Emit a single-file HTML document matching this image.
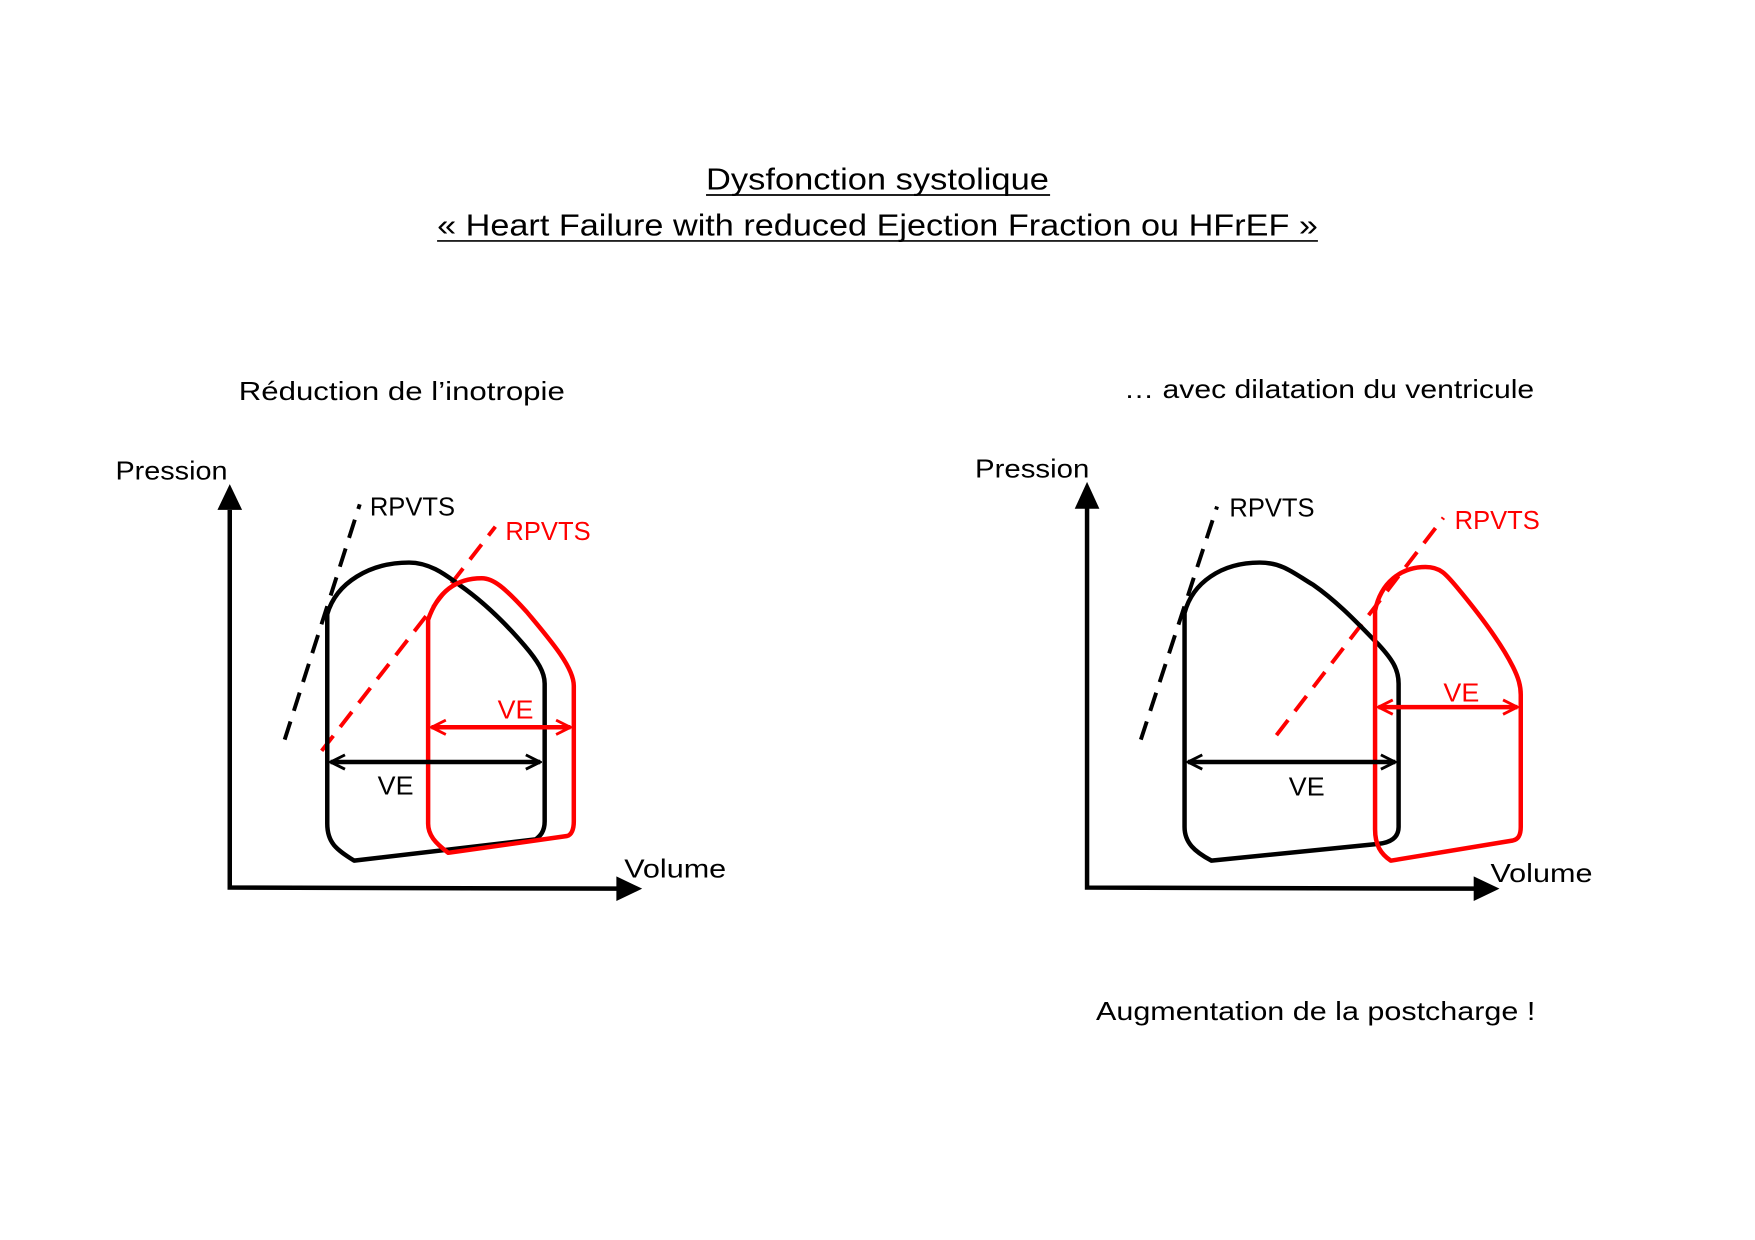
<!DOCTYPE html>
<html><head><meta charset="utf-8"><style>html,body{margin:0;padding:0;background:#fff}svg{display:block}text{font-family:"Liberation Sans",sans-serif}</style></head><body>
<svg width="1755" height="1240" viewBox="0 0 1566 1106.5" xmlns="http://www.w3.org/2000/svg">
<defs>
<marker id="ak" viewBox="0 0 10 10" refX="9" refY="5" markerWidth="4" markerHeight="4" orient="auto-start-reverse" markerUnits="strokeWidth"><path d="M1,1 L9,5 L1,9" fill="none" stroke="#000" stroke-width="1.6"/></marker>
<marker id="ar" viewBox="0 0 10 10" refX="9" refY="5" markerWidth="4" markerHeight="4" orient="auto-start-reverse" markerUnits="strokeWidth"><path d="M1,1 L9,5 L1,9" fill="none" stroke="#f00" stroke-width="1.6"/></marker>
</defs>
<g font-size="27" fill="#000">
<text x="783" y="169" text-anchor="middle" textLength="306" lengthAdjust="spacingAndGlyphs">Dysfonction systolique</text>
<line x1="630" y1="174" x2="937" y2="174" stroke="#000" stroke-width="1.5"/>
<text x="783" y="210" text-anchor="middle" textLength="786" lengthAdjust="spacingAndGlyphs">« Heart Failure with reduced Ejection Fraction ou HFrEF »</text>
<line x1="390" y1="215" x2="1176" y2="215" stroke="#000" stroke-width="1.5"/>
</g>
<g font-size="23" fill="#000">
<text x="213" y="357" textLength="291" lengthAdjust="spacingAndGlyphs">Réduction de l’inotropie</text>
<text x="1003" y="355" textLength="366" lengthAdjust="spacingAndGlyphs">… avec dilatation du ventricule</text>
<text x="978" y="910" textLength="392" lengthAdjust="spacingAndGlyphs">Augmentation de la postcharge !</text>
<text x="103" y="428" textLength="100" lengthAdjust="spacingAndGlyphs">Pression</text>
<text x="557" y="783" textLength="91" lengthAdjust="spacingAndGlyphs">Volume</text>
<text x="870" y="426" textLength="102" lengthAdjust="spacingAndGlyphs">Pression</text>
<text x="1330" y="787" textLength="91" lengthAdjust="spacingAndGlyphs">Volume</text>
<text x="330" y="460" textLength="76" lengthAdjust="spacingAndGlyphs">RPVTS</text>
<text x="1097" y="461" textLength="76" lengthAdjust="spacingAndGlyphs">RPVTS</text>
<text x="337" y="709" textLength="32" lengthAdjust="spacingAndGlyphs">VE</text>
<text x="1150" y="710" textLength="32" lengthAdjust="spacingAndGlyphs">VE</text>
</g>
<g font-size="23" fill="#f00">
<text x="451" y="482" textLength="76" lengthAdjust="spacingAndGlyphs">RPVTS</text>
<text x="1298" y="472" textLength="76" lengthAdjust="spacingAndGlyphs">RPVTS</text>
<text x="444" y="641" textLength="32" lengthAdjust="spacingAndGlyphs">VE</text>
<text x="1288" y="626" textLength="32" lengthAdjust="spacingAndGlyphs">VE</text>
</g>
<g stroke="#000" stroke-width="4" fill="none">
<polyline points="205,455 205,792 555,793"/>
<polyline points="970,452 970,792 1316,793"/>
</g>
<g fill="#000">
<polygon points="205,432 194,455 216,455"/>
<polygon points="573,793 550,782 550,804"/>
<polygon points="970,430 959,454 981,454"/>
<polygon points="1338,793 1315,782 1315,804"/>
</g>
<g stroke-width="3.5" stroke-dasharray="17,10" fill="none">
<line x1="254" y1="660" x2="321" y2="450" stroke="#000"/>
<line x1="287" y1="670" x2="442" y2="470" stroke="#f00"/>
<line x1="1018" y1="660" x2="1086" y2="452" stroke="#000"/>
<line x1="1139" y1="656" x2="1288" y2="462" stroke="#f00"/>
</g>
<g stroke-width="4" fill="none" stroke-linejoin="round">
<path d="M292,548 C300,520 330,502 365,502 C385,502 400,515 410,522 C430,536 450,555 468,576 C480,590 486,600 486,610 L486,733 C486,742 482,746 478,749 L316,768 C300,758 292,752 292,735 Z" stroke="#000"/>
<path d="M382,553 C390,530 405,516 430,516 C440,516 450,524 470,546 C490,570 512,595 512,612 L512,733 C512,740 510,745 506,746 L400,761 C388,752 382,745 382,735 Z" stroke="#f00"/>
<path d="M1057,547 C1064,520 1090,502 1124,502 C1145,502 1155,512 1172,522 C1195,538 1215,560 1230,575 C1242,588 1248,597 1248,610 L1248,738 C1248,748 1240,752 1230,753 L1081,768 C1066,760 1057,752 1057,738 Z" stroke="#000"/>
<path d="M1227,545 C1232,520 1250,506 1272,506 C1285,506 1290,512 1300,524 C1320,548 1340,575 1350,595 C1355,605 1357,612 1357,620 L1357,738 C1357,745 1355,749 1350,750 L1241,768 C1232,762 1227,754 1227,740 Z" stroke="#f00"/>
</g>
<g stroke-width="4">
<line x1="295" y1="680" x2="482" y2="680" stroke="#000" marker-start="url(#ak)" marker-end="url(#ak)"/>
<line x1="385" y1="649" x2="509" y2="649" stroke="#f00" marker-start="url(#ar)" marker-end="url(#ar)"/>
<line x1="1060" y1="680" x2="1245" y2="680" stroke="#000" marker-start="url(#ak)" marker-end="url(#ak)"/>
<line x1="1230" y1="631" x2="1354" y2="631" stroke="#f00" marker-start="url(#ar)" marker-end="url(#ar)"/>
</g>
</svg>
</body></html>
